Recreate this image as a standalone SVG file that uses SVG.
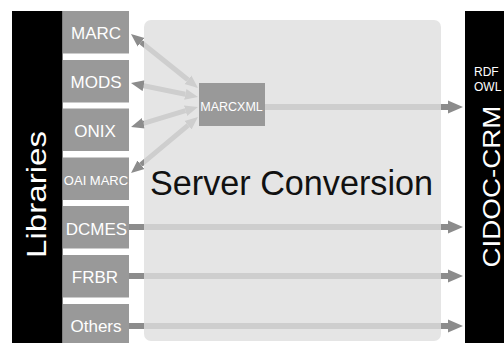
<svg xmlns="http://www.w3.org/2000/svg" width="504" height="343" viewBox="0 0 504 343">
<style>
.bar{fill:#000}
.fmt{fill:#999999}
.lbl{font-family:"Liberation Sans",Arial,sans-serif;fill:#fff;text-anchor:middle}
.ln{stroke:#8c8c8c;stroke-width:6;fill:none}
.dg{stroke:#8c8c8c;stroke-width:5;fill:none}
</style>
<defs>
<marker id="ah" markerUnits="userSpaceOnUse" markerWidth="16" markerHeight="14" viewBox="0 -7 16 14" refX="0" refY="0" orient="auto"><path d="M0,-6.5 L15,0 L0,6.5 Z" fill="#8c8c8c"/></marker>
<marker id="ad" markerUnits="userSpaceOnUse" markerWidth="14" markerHeight="12" viewBox="0 -6 14 12" refX="0" refY="0" orient="auto-start-reverse"><path d="M0,-5.5 L13,0 L0,5.5 Z" fill="#8c8c8c"/></marker>
</defs>
<rect width="504" height="343" fill="#fff"/>
<g id="connectors">
<line class="dg" x1="141.1" y1="42.2" x2="187.9" y2="79.8" marker-start="url(#ad)" marker-end="url(#ad)"/>
<line class="dg" x1="143.7" y1="85.7" x2="185.3" y2="94.3" marker-start="url(#ad)" marker-end="url(#ad)"/>
<line class="dg" x1="143.5" y1="123.3" x2="185.5" y2="110.7" marker-start="url(#ad)" marker-end="url(#ad)"/>
<line class="dg" x1="141.0" y1="164.7" x2="188.0" y2="125.3" marker-start="url(#ad)" marker-end="url(#ad)"/>
<line class="ln" x1="265" y1="107" x2="448" y2="107" marker-end="url(#ah)"/>
<line class="ln" x1="129" y1="227" x2="448" y2="227" marker-end="url(#ah)"/>
<line class="ln" x1="129" y1="276" x2="448" y2="276" marker-end="url(#ah)"/>
<line class="ln" x1="129" y1="326" x2="448" y2="326" marker-end="url(#ah)"/>
</g>
<g id="server">
<rect x="144" y="20" width="297" height="321" rx="7" fill="#dedede" fill-opacity="0.8"/>
<text x="291.5" y="195" font-family="'Liberation Sans',Arial,sans-serif" font-size="35" fill="#111" text-anchor="middle" textLength="283" lengthAdjust="spacingAndGlyphs">Server Conversion</text>
</g>
<g id="libraries">
<rect class="bar" x="12" y="11" width="50.5" height="332"/>
<text class="lbl" transform="translate(46,194.5) rotate(-90)" font-size="27" textLength="127" lengthAdjust="spacingAndGlyphs">Libraries</text>
</g>
<g id="marc"><rect class="fmt" x="63" y="11" width="66" height="42.5"/><text class="lbl" x="96" y="39" font-size="17">MARC</text></g>
<g id="mods"><rect class="fmt" x="63" y="60" width="66" height="42.5"/><text class="lbl" x="96" y="87.5" font-size="17">MODS</text></g>
<g id="onix"><rect class="fmt" x="63" y="108.5" width="66" height="42.5"/><text class="lbl" x="95" y="137" font-size="17">ONIX</text></g>
<g id="oaimarc"><rect class="fmt" x="63" y="157.5" width="66" height="42.5"/><text class="lbl" x="96" y="185" font-size="13">OAI MARC</text></g>
<g id="dcmes"><rect class="fmt" x="63" y="206" width="66" height="42.5"/><text class="lbl" x="96.5" y="235" font-size="17">DCMES</text></g>
<g id="frbr"><rect class="fmt" x="63" y="255" width="66" height="42.5"/><text class="lbl" x="95" y="283" font-size="17">FRBR</text></g>
<g id="others"><rect class="fmt" x="63" y="304" width="66" height="43"/><text class="lbl" x="96" y="332" font-size="17">Others</text></g>
<g id="marcxml"><rect class="fmt" x="199" y="83" width="66" height="43"/><text class="lbl" x="231.5" y="111" font-size="12.5">MARCXML</text></g>
<g id="cidoc">
<rect class="bar" x="465" y="11" width="39" height="332"/>
<text x="474" y="76" font-family="'Liberation Sans',Arial,sans-serif" font-size="12" fill="#fff">RDF</text>
<text x="474" y="91" font-family="'Liberation Sans',Arial,sans-serif" font-size="12" fill="#fff">OWL</text>
<text class="lbl" transform="translate(500,186.5) rotate(-90)" font-size="23" textLength="162" lengthAdjust="spacingAndGlyphs">CIDOC-CRM</text>
</g>
</svg>
